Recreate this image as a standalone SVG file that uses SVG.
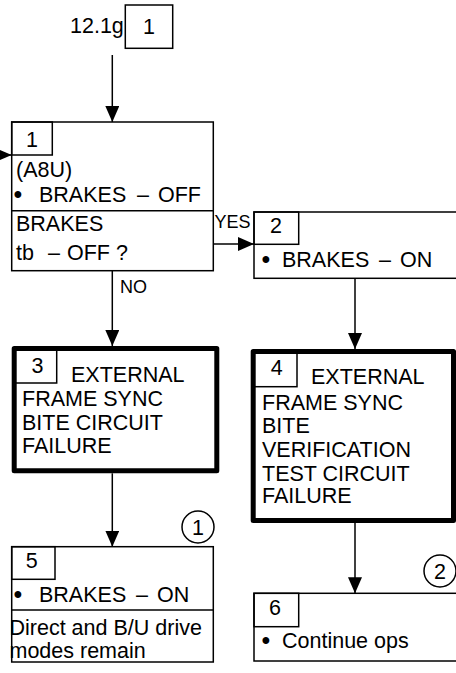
<svg xmlns="http://www.w3.org/2000/svg" width="456" height="673" viewBox="0 0 456 673">
<style>
.t{font-family:"Liberation Sans",Arial,sans-serif;font-size:21.5px;fill:#000}
.c{text-anchor:middle}
.s{font-size:18px}
.u{font-size:25px}
.b{fill:#fff;stroke:#000;stroke-width:1.5}
.k{fill:#fff;stroke:#000;stroke-width:5;stroke-linejoin:round}
.n{fill:none;stroke:#000;stroke-width:1.5}
.l{fill:none;stroke:#000;stroke-width:1.5;marker-end:url(#ah)}
</style>
<defs>
<marker id="ah" markerUnits="userSpaceOnUse" markerWidth="16" markerHeight="14" refX="16" refY="7" orient="auto">
<path d="M0,0 L16,7 L0,14 z" fill="#000"/>
</marker>
</defs>
<g id="connectors">
<line class="l" x1="112.3" y1="55" x2="112.3" y2="122"/>
<line class="l" x1="-20" y1="155" x2="11.7" y2="155"/>
<line class="l" x1="213.3" y1="244" x2="254" y2="244"/>
<line class="l" x1="112.3" y1="270.7" x2="112.3" y2="346"/>
<line class="l" x1="355" y1="278.3" x2="355" y2="349"/>
<line class="l" x1="112.3" y1="473.3" x2="112.3" y2="546.7"/>
<line class="l" x1="355" y1="523" x2="355" y2="593.3"/>
<text class="t s" x="214.5" y="228.3" font-size="17">YES</text>
<text class="t s" x="120" y="293.3">NO</text>
</g>
<g id="start">
<text class="t" x="70" y="33.3" font-size="18.5">12.1g</text>
<rect class="b" x="125.3" y="5" width="47.4" height="43.3"/>
<text class="t c" x="149" y="34">1</text>
</g>
<g id="node1">
<rect class="b" x="11.7" y="122" width="201.6" height="148.7"/>
<rect class="n" x="11.7" y="122" width="40.6" height="33"/>
<line class="n" x1="11.7" y1="210.7" x2="213.3" y2="210.7"/>
<text class="t c" x="32" y="147">1</text>
<text class="t" x="16" y="177">(A8U)</text>
<text class="t" y="201.7"><tspan class="u" x="13.5" y="202.5">• </tspan><tspan x="39" y="201.7">BRAKES </tspan><tspan x="137">– </tspan><tspan x="158">OFF</tspan></text>
<text class="t" x="16" y="231">BRAKES</text>
<text class="t" y="260"><tspan x="16">tb </tspan><tspan x="48">– </tspan><tspan x="67">OFF ?</tspan></text>
</g>
<g id="node2">
<rect class="b" x="254" y="212" width="210" height="66.3"/>
<rect class="n" x="254" y="212" width="44.7" height="32.3"/>
<text class="t c" x="276" y="233">2</text>
<text class="t" y="267.3"><tspan class="u" x="261.5" y="268.1">• </tspan><tspan x="282" y="267.3">BRAKES </tspan><tspan x="379">– </tspan><tspan x="400">ON</tspan></text>
</g>
<g id="node3">
<rect class="k" x="14.2" y="348.5" width="202.6" height="122.3"/>
<rect class="n" x="14" y="349" width="42.7" height="34"/>
<text class="t c" x="37.5" y="373.3">3</text>
<text class="t" x="71" y="381.7">EXTERNAL</text>
<text class="t" x="22" y="406">FRAME SYNC</text>
<text class="t" x="22" y="430">BITE CIRCUIT</text>
<text class="t" x="22" y="453">FAILURE</text>
</g>
<g id="node4">
<rect class="k" x="253.2" y="351.5" width="200.3" height="169"/>
<rect class="n" x="253" y="352" width="44" height="34.7"/>
<text class="t c" x="276.7" y="375">4</text>
<text class="t" x="311" y="384">EXTERNAL</text>
<text class="t" x="262" y="410">FRAME SYNC</text>
<text class="t" x="262" y="433">BITE</text>
<text class="t" x="262" y="457">VERIFICATION</text>
<text class="t" x="262" y="481">TEST CIRCUIT</text>
<text class="t" x="262" y="503">FAILURE</text>
</g>
<g id="node5">
<circle class="n" cx="198" cy="527" r="16"/>
<text class="t c" x="198" y="534.5">1</text>
<rect class="b" x="11.7" y="546.7" width="201.6" height="115.3"/>
<rect class="n" x="11.7" y="546.7" width="43.3" height="32.6"/>
<line class="n" x1="11.7" y1="610" x2="213.3" y2="610"/>
<text class="t c" x="31.7" y="568.3">5</text>
<text class="t" y="601.7"><tspan class="u" x="13.5" y="602.5">• </tspan><tspan x="39" y="601.7">BRAKES </tspan><tspan x="136">– </tspan><tspan x="157">ON</tspan></text>
<text class="t" x="9.5" y="635" font-size="21">Direct and B/U drive</text>
<text class="t" x="9.5" y="657.5" font-size="21">modes remain</text>
</g>
<g id="node6">
<circle class="n" cx="440" cy="571" r="16"/>
<text class="t c" x="440" y="578.5">2</text>
<rect class="b" x="254" y="593.3" width="210" height="67.7"/>
<rect class="n" x="254" y="593.3" width="44.7" height="33.4"/>
<text class="t c" x="275" y="615">6</text>
<text class="t" y="648"><tspan class="u" x="261.5" y="648.8">• </tspan><tspan x="282" y="648">Continue ops</tspan></text>
</g>
</svg>
